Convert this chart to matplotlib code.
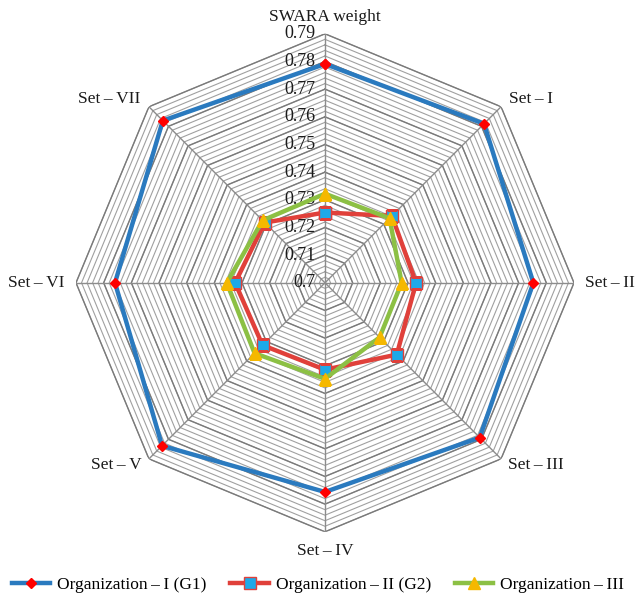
import numpy as np
import matplotlib
matplotlib.use("Agg")
from matplotlib import pyplot as plt

plt.rcParams['font.family'] = ['Liberation Serif', 'DejaVu Serif']

categories = ["SWARA weight", "Set\u2009\u2013\u2009I", "Set\u2009\u2013\u2009II", "Set\u2009\u2013\u2009III",
              "Set\u2009\u2013\u2009IV", "Set\u2009\u2013\u2009V", "Set\u2009\u2013\u2009VI", "Set\u2009\u2013\u2009VII"]
g1 = [0.7791, 0.7813, 0.7753, 0.7791, 0.7756, 0.7833, 0.7759, 0.7829]
g2 = [0.7254, 0.7342, 0.7329, 0.7367, 0.7314, 0.7319, 0.7325, 0.7308]
g3 = [0.7322, 0.7330, 0.7277, 0.7279, 0.7347, 0.7360, 0.7355, 0.7319]
series_names = ["Organization\u2009\u2013\u2009I (G1)", "Organization\u2009\u2013\u2009II (G2)",
                "Organization\u2009\u2013\u2009III"]
r_min, r_max = 0.70, 0.79
major_ticks = [0.70, 0.71, 0.72, 0.73, 0.74, 0.75, 0.76, 0.77, 0.78, 0.79]
tick_labels = ["0.7", "0.71", "0.72", "0.73", "0.74", "0.75", "0.76", "0.77", "0.78", "0.79"]


def main():
    n = len(categories)
    angles = np.arange(n) * 2 * np.pi / n
    closed = np.append(angles, angles[0])

    fig = plt.figure(figsize=(6.36, 6.03), dpi=100)
    ax = fig.add_axes([0.1195, 0.118, 0.783, 0.826], projection='polar')
    ax.set_theta_zero_location('N')
    ax.set_theta_direction(-1)
    ax.set_ylim(r_min, r_max)
    ax.grid(False)
    ax.spines['polar'].set_visible(False)
    ax.set_xticks([])
    ax.set_yticks([])

    # octagon grid: minor then major rings
    minor = np.arange(r_min + 0.002, r_max + 1e-9, 0.002)
    for r in minor:
        ax.plot(closed, [r] * (n + 1), color='#a0a0a0', lw=0.8, zorder=1)
    for r in major_ticks[1:]:
        ax.plot(closed, [r] * (n + 1), color='#7a7a7a', lw=1.0, zorder=1)
    for a in angles:
        ax.plot([a, a], [r_min, r_max], color='#8c8c8c', lw=1.0, zorder=1)

    for r, lbl in zip(major_ticks, tick_labels):
        ax.annotate(lbl, xy=(0, r), xytext=(-7, 0), textcoords='offset points',
                    ha='right', va='center', fontsize=13, color='#1a1a1a', zorder=2)

    # category labels
    offs = [((0, 6), 'center', 'bottom'), ((6, 0), 'left', 'bottom'), ((8, 0), 'left', 'center'),
            ((5, 1), 'left', 'top'), ((0, -8), 'center', 'top'), ((-5, 1), 'right', 'top'),
            ((-8, 0), 'right', 'center'), ((-6, 0), 'right', 'bottom')]
    for a, lbl, (off, ha, va) in zip(angles, categories, offs):
        ax.annotate(lbl, xy=(a, r_max), xytext=off, textcoords='offset points',
                    ha=ha, va=va, fontsize=12.5, color='#1a1a1a', annotation_clip=False)

    ax.plot(closed, g1 + g1[:1], color='#2a7abf', lw=3.2, marker='D', ms=5,
            mfc='#ff0000', mec='#ff0000', zorder=4, label=series_names[0])
    ax.plot(closed, g2 + g2[:1], color='#e0403a', lw=3.2, marker='s', ms=8,
            mfc='#1ea9e8', mec='#e0403a', mew=1, zorder=3, label=series_names[1])
    ax.plot(closed, g3 + g3[:1], color='#8cc044', lw=3.2, marker='^', ms=8,
            mfc='#f5b800', mec='#f5b800', zorder=3, label=series_names[2])

    fig.legend(loc='center', bbox_to_anchor=(0.5, 0.03), ncol=3, frameon=False,
               fontsize=12.5, handlelength=2.2, columnspacing=1.4, handletextpad=0.4)

    fig.savefig("out.png", dpi=100)


if __name__ == "__main__":
    main()
